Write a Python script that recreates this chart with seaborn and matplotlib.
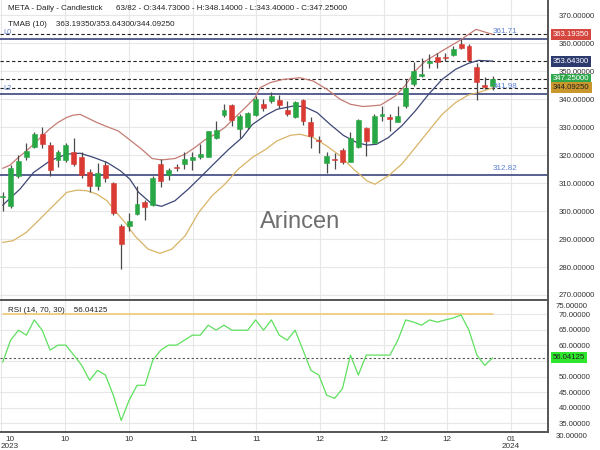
import numpy as np
import pandas as pd
import matplotlib
matplotlib.use("Agg")
import matplotlib.pyplot as plt
import seaborn as sns

sns.set_theme(style="white")
plt.rcParams['font.family'] = ['Liberation Sans', 'DejaVu Sans']

# ---------------- data ----------------
opens = [305, 301.7, 312.4, 319.4, 323.1, 327.7, 323.7, 318.3, 318.2, 321.3,
         319.5, 314, 309, 316.4, 309.9, 294.8, 294.5, 298.9, 303.1, 302.1,
         316.8, 312.9, 315.8, 317, 318.3, 319.2, 319.5, 326, 334.4, 337.9,
         329.3, 329.9, 334.3, 338.2, 339.2, 339.8, 336.2, 333.5, 339.6, 331.9,
         325.4, 317.1, 318.8, 321.9, 317.6, 323.1, 329.6, 324.3, 333.9, 333.7,
         331.9, 337.6, 345.4, 348.3, 352.8, 355.2, 355, 355.8, 359.9, 359,
         351.5, 345.1, 344.73]
highs = [307, 316.5, 320, 324.5, 328.3, 330.2, 324.8, 321.8, 324.5, 326,
         321.2, 315, 317.1, 318, 310.5, 295.4, 299.3, 308.8, 303.9, 312.6,
         318.6, 315.4, 316.8, 321, 321, 323.9, 328.7, 332.3, 338.2, 338.2,
         334.6, 335.5, 341.2, 340, 342.6, 341.4, 339.4, 339.4, 340, 333.5,
         326.7, 321, 320.7, 322.4, 328.3, 333.1, 329.9, 334.6, 337.6, 334.6,
         337.6, 347.1, 353.4, 354.9, 356.3, 356.7, 356.7, 359, 361.4, 359.9,
         352.8, 348, 348.14]
lows = [300, 301, 312, 318.3, 322.7, 322.7, 312.4, 315.6, 317.4, 316.2,
        312, 306.7, 307.5, 310.5, 298.6, 279.3, 293, 298.7, 296.9, 301.9,
        308.5, 311.1, 314.4, 315, 314.8, 318.8, 319.2, 325.7, 333.5, 330.5,
        326.3, 329.5, 334, 335.8, 338.6, 336.7, 334, 333.2, 330.7, 322.4,
        320.7, 313.8, 315.2, 316.8, 317.4, 322.7, 319.8, 324.2, 332.3, 328.7,
        331.7, 337, 344.8, 348, 351.3, 351.3, 353.7, 355.5, 357.9, 353.7,
        339.6, 343.6, 343.40]
closes = [305.5, 315.3, 318, 321.5, 327.5, 323.9, 314.6, 321, 323.7, 316.8,
          312.9, 308.8, 313.8, 312, 299.3, 288.2, 296.5, 302.5, 301.3, 311.7,
          310.8, 314.6, 315.4, 318.6, 319.5, 320.4, 328.5, 329, 336.2, 332.6,
          334, 335, 340, 336.7, 341.2, 337.9, 334.6, 339, 332.3, 326.7,
          324.9, 319.8, 318.4, 317.4, 326.3, 332.6, 325.1, 334, 334.6, 333.1,
          334, 344.2, 350.1, 349.2, 353.7, 353.5, 354.8, 357.9, 358.2, 353.9,
          346.3, 344.4, 347.25]

upper_x = [0, 0.9, 2, 3, 3.9, 5, 6, 7, 8.1, 8.9, 9.8, 10.6, 11.9, 13.2, 14.6, 15.7,
           17.6, 18.9, 20.1, 21.8, 23.1, 24.3, 25.6, 26.9, 28.1, 29.4, 30.7, 31.9,
           32.6, 33.9, 35.5, 37.6, 39.3, 41, 42.7, 44, 45.6, 47.8, 49.7, 50.9, 52.2,
           53.5, 55.6, 57.7, 59.9, 62]
upper_y = [315.3, 316.4, 319.2, 321.5, 323.9, 326.9, 329.5, 331.7, 333.5, 334.3, 334.6,
           333.5, 331.7, 330.2, 328.7, 326.3, 322.1, 318.8, 318.3, 318.8, 320.4, 322.7,
           325.5, 327.5, 329.9, 333.5, 337, 340.5, 344.2, 346, 347.1, 347.7, 346.5,
           343.6, 340, 338.2, 337.4, 337.9, 341.2, 344.8, 350.1, 353.7, 357.3, 360.8,
           365, 363.19]
mid_x = [0, 2.2, 3.9, 6, 8.1, 9.8, 11.5, 13.2, 14.9, 16.1, 17.2, 18.9, 20.1, 21.8,
         23.5, 25.2, 26.9, 28.6, 30.3, 31.6, 33.3, 34.7, 36.8, 38.1, 39.8, 41.4, 43.1,
         44.8, 46.1, 47.3, 48.8, 50.5, 52.2, 53.9, 55.6, 57.3, 58.9, 60.2, 62]
mid_y = [302.1, 307.9, 313.8, 318, 320.4, 320.7, 319.2, 317.4, 314.4, 311.4, 306.7,
         302.5, 301.7, 303.7, 307.9, 312.6, 317.4, 322.1, 326.3, 331, 334.3, 336.4,
         337.6, 337.4, 335.2, 331.1, 327.1, 324.5, 323.6, 323.9, 326.3, 330.5, 335.8,
         341.8, 347.1, 350.7, 352.8, 353.9, 353.643]
lower_x = [0, 1.3, 3, 4.7, 6.4, 8.1, 9.4, 10.6, 11.9, 13.2, 14.4, 15.6, 16.7, 18.4,
           19.9, 21.4, 23.1, 24.8, 26.5, 28.1, 29.8, 31.6, 33.3, 34.7, 36.4, 37.6,
           39.3, 41, 42.7, 44.4, 46.1, 47.1, 48.8, 50.5, 52.2, 53.9, 55.6, 57.3, 58.9,
           60.2, 62]
lower_y = [288.8, 289.4, 292.4, 297.1, 301.9, 306.7, 307.5, 307.3, 306.1, 303.7, 299.5,
           295.5, 291.2, 286.4, 284.9, 286.4, 291.2, 299.5, 305.5, 309.6, 315, 319.2,
           322.1, 325.1, 327.1, 327.5, 326.3, 323.3, 319.8, 315, 310.8, 309.6, 312.6,
           316.8, 322.7, 328.7, 334.6, 338.8, 341.5, 342.4, 344.0925]

rsi = [54.6, 61.7, 64.9, 63.3, 68.2, 64.9, 58.5, 60.1, 60.1, 56.9,
       53.6, 48.8, 52.0, 50.5, 44.0, 35.9, 42.4, 47.2, 47.2, 55.3,
       58.5, 60.1, 60.1, 61.7, 63.3, 63.3, 66.5, 64.9, 66.5, 64.9,
       64.9, 64.9, 68.2, 64.9, 68.2, 63.3, 61.7, 64.9, 58.5, 52.0,
       50.5, 44.0, 43.0, 46.2, 56.9, 50.5, 56.9, 56.9, 56.9, 56.9,
       61.7, 68.2, 67.5, 66.5, 68.2, 67.5, 68.2, 68.8, 69.8, 64.9,
       56.9, 53.6, 56.04125]

hlines_solid = [361.71, 341.98, 312.82]
hlines_dashed = [363.1935, 353.643, 347.25, 344.0925]
tick_pos = [-0.2, 7.9, 16.0, 24.1, 32.1, 40.2, 48.3, 56.2, 64.3]
tick_labels = ["10\n2023", "10", "10", "11", "11", "12", "12", "12", "01\n2024"]
price_ticks = [270, 280, 290, 300, 310, 320, 330, 340, 350, 360, 370]
rsi_ticks = [35, 40, 45, 50, 55, 60, 65, 70]

# ---------------- figure ----------------
W, H = 600, 450
fig = plt.figure(figsize=(6, 4.5), dpi=100)
fig.patch.set_facecolor("white")
ax = fig.add_axes([0, 150 / H, 548 / W, 300 / H])
ax2 = fig.add_axes([0, 18 / H, 548 / W, 132 / H], sharex=ax)

GREEN = "#28a745"
RED = "#d93a33"
GRID = "#e7e7e7"
AXC = "#555555"

df = pd.DataFrame({"i": np.arange(len(opens)), "o": opens, "h": highs, "l": lows, "c": closes})
df["up"] = df["c"] >= df["o"]
df["bot"] = df[["o", "c"]].min(axis=1)
df["hgt"] = (df["c"] - df["o"]).abs().clip(lower=0.35)
cols = np.where(df["up"], GREEN, RED)

for a in (ax, ax2):
    a.set_facecolor("white")
    a.set_xlim(-0.34, 69.0)
    a.set_xticks(tick_pos)
    a.grid(True, color=GRID, lw=0.8)
    a.set_axisbelow(True)
    for s in ("left", "top", "bottom"):
        a.spines[s].set_visible(False)
    a.spines["right"].set_color(AXC)
    a.spines["right"].set_linewidth(1.4)
    a.yaxis.tick_right()
    a.tick_params(axis="y", length=0, pad=7.5, labelsize=5.6, labelcolor="#333333")
    a.tick_params(axis="x", length=0)

# main panel
ax.set_ylim(268.2, 375.5)
ax.set_yticks(price_ticks)
ax.set_yticklabels([f"{v:.5f}" for v in price_ticks])
ax.tick_params(axis="x", labelbottom=False)

for v in hlines_solid:
    ax.axhline(v, color="#2b3576", lw=1.1, zorder=1.5)
for v in hlines_dashed:
    ax.axhline(v, color="#222222", lw=0.8, ls=(0, (3, 2.2)), zorder=1.5)

sns.lineplot(x=upper_x, y=upper_y, ax=ax, color="#c57c74", lw=0.9, sort=False, estimator=None)
sns.lineplot(x=mid_x, y=mid_y, ax=ax, color="#3d4676", lw=0.9, sort=False, estimator=None)
sns.lineplot(x=lower_x, y=lower_y, ax=ax, color="#d8b466", lw=0.9, sort=False, estimator=None)

ax.vlines(df["i"], df["l"], df["h"], color="#4a4a4a", lw=0.9, zorder=3)
ax.bar(df["i"], df["hgt"], bottom=df["bot"], width=0.62, color=cols, edgecolor=cols,
       lw=0.4, zorder=4)

ax.text(300 / 548, 1 - 222 / 300, "Arincen", transform=ax.transAxes, ha="center",
        va="center", fontsize=17, color="#6e6e6e", zorder=5)

def ftxt(x, y, s, **kw):
    fig.text(x / W, 1 - y / H, s, va="center", **kw)

ftxt(8, 9, "META - Daily - Candlestick      63/82 - O:344.73000 - H:348.14000 - L:343.40000 - C:347.25000",
     fontsize=5.8, color="#222222")
ftxt(8, 25, "TMAB (10)    363.19350/353.64300/344.09250", fontsize=5.8, color="#222222")
ftxt(3, 33, "L0", fontsize=5.4, color="#5b7fd0")
ftxt(3, 88, "L2", fontsize=5.4, color="#5b7fd0")

for v, lab in zip(hlines_solid, ["361.71", "341.98", "312.82"]):
    ax.text(517 / 548, v + 1.2, lab, transform=ax.get_yaxis_transform(), ha="right",
            va="bottom", fontsize=5.8, color="#5b7fd0", zorder=6)

box_specs = [(363.1935, "363.19350", "#d5463f", "white"),
             (353.643, "353.64300", "#2c3a6e", "white"),
             (347.25, "347.25000", "#2ea84a", "white"),
             (344.0925, "344.09250", "#c9972c", "#222222")]
for v, lab, fc, tc in box_specs:
    ax.text(553 / 548, v, lab, transform=ax.get_yaxis_transform(), ha="left", va="center",
            fontsize=5.6, color=tc, zorder=10, clip_on=False,
            bbox=dict(boxstyle="square,pad=0.25", fc=fc, ec="none"))

# RSI panel
ax2.set_ylim(32.2, 74.6)
ax2.set_yticks(rsi_ticks)
ax2.set_yticklabels(["" if v == 55 else f"{v:.5f}" for v in rsi_ticks])
ax2.spines["top"].set_visible(True)
ax2.spines["top"].set_color(AXC)
ax2.spines["top"].set_linewidth(1.4)
ax2.spines["bottom"].set_visible(True)
ax2.spines["bottom"].set_color(AXC)
ax2.spines["bottom"].set_linewidth(1.4)

rsi_x = np.arange(len(rsi))
sns.lineplot(x=[0, len(rsi) - 1], y=[70, 70], ax=ax2, color="#f1c766", lw=1.1, estimator=None)
ax2.axhline(rsi[-1], color="#555555", lw=0.8, ls=(0, (2, 2)))
sns.lineplot(x=rsi_x, y=rsi, ax=ax2, color="#5ee05e", lw=0.9, estimator=None)
ax2.text(553 / 548, rsi[-1], f"{rsi[-1]:.5f}", transform=ax2.get_yaxis_transform(),
         ha="left", va="center", fontsize=5.6, color="#222222", zorder=10, clip_on=False,
         bbox=dict(boxstyle="square,pad=0.25", fc="#2ee62e", ec="none"))
ftxt(556, 306, "75.00000", fontsize=5.6, color="#333333")
ftxt(556, 436, "30.00000", fontsize=5.6, color="#333333")
ftxt(8, 311, "RSI (14, 70, 30)    56.04125", fontsize=5.8, color="#222222")

ax2.set_xticklabels(tick_labels, fontsize=5.9, color="#333333", linespacing=0.95)
ax2.tick_params(axis="x", pad=3)
lbls = ax2.get_xticklabels()
lbls[0].set_ha("left")
lbls[0].set_multialignment("center")

for a in (ax, ax2):
    a.set_xlabel("")
    a.set_ylabel("")

fig.savefig("out.png", dpi=100, facecolor="white")
